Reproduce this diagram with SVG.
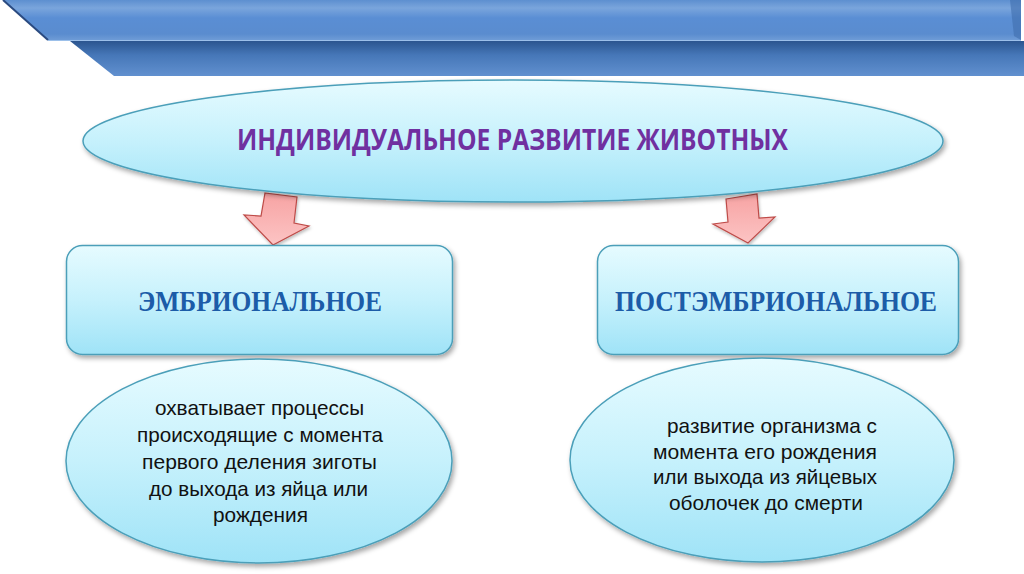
<svg xmlns="http://www.w3.org/2000/svg" width="1024" height="574" viewBox="0 0 1024 574">
<defs>
<linearGradient id="barTop" x1="0" y1="0" x2="0" y2="1">
<stop offset="0" stop-color="#5d8fd0"/>
<stop offset="0.2" stop-color="#7aa5dc"/>
<stop offset="0.45" stop-color="#5a8ed4"/>
<stop offset="0.85" stop-color="#5a8ccf"/>
<stop offset="1" stop-color="#6e9bd6"/>
</linearGradient>
<linearGradient id="barBot" x1="0" y1="0" x2="0" y2="1">
<stop offset="0" stop-color="#2b558f"/>
<stop offset="0.4" stop-color="#4677b8"/>
<stop offset="1" stop-color="#6190cf"/>
</linearGradient>
<linearGradient id="cyan" x1="0" y1="0" x2="0" y2="1">
<stop offset="0" stop-color="#e6fbff"/>
<stop offset="0.5" stop-color="#c6f1fc"/>
<stop offset="1" stop-color="#9fe3f7"/>
</linearGradient>
<linearGradient id="pink" x1="0" y1="0" x2="0" y2="1">
<stop offset="0" stop-color="#f7a3a3"/>
<stop offset="1" stop-color="#fcc4c4"/>
</linearGradient>
<filter id="sh" x="-10%" y="-10%" width="120%" height="130%">
<feDropShadow dx="2" dy="3" stdDeviation="2.5" flood-color="#000" flood-opacity="0.35"/>
</filter>
<filter id="ash" x="-20%" y="-20%" width="140%" height="140%">
<feDropShadow dx="1" dy="2" stdDeviation="1.5" flood-color="#000" flood-opacity="0.25"/>
</filter>
</defs>
<style>
.shape{fill:url(#cyan);stroke:#4b9fb9;stroke-width:1.5;filter:url(#sh)}
.arrow{fill:url(#pink);stroke:#be4b48;stroke-width:1.2;stroke-linejoin:miter;filter:url(#ash)}
.title{font-family:"Open Sans","Noto Sans","DejaVu Sans",sans-serif;font-weight:bold;font-size:28px;fill:#7030a0}
.head{font-family:"Liberation Serif","DejaVu Serif",serif;font-weight:bold;font-size:29px;fill:#1c5ca8}
.body{font-family:"Liberation Sans","DejaVu Sans",sans-serif;font-size:21px;fill:#111}
</style>
<rect width="1024" height="574" fill="#ffffff"/>
<g id="banner">
<polygon points="70,41 1024,41 1024,76 114,76" fill="url(#barBot)"/>
<polygon points="3,0 1021,0 1021,40 48,40" fill="url(#barTop)"/>
<line x1="3" y1="0" x2="48" y2="40" stroke="#2a4a80" stroke-width="2"/>
<line x1="48" y1="40.5" x2="1021" y2="40.5" stroke="#9cc0ea" stroke-width="1.2"/>
<polygon points="1010,0 1021,0 1021,40 1014,36" fill="#3f6eae" opacity="0.6"/>
</g>
<g id="connectors">
<polygon class="arrow" points="265,193 297,197 294,223 309,226 273,245 244,215 261,216"/>
<polygon class="arrow" points="726,199 757,194 759,218 775,217 748,243 713,224 728,222"/>
</g>
<g id="root">
<ellipse class="shape" cx="513" cy="141" rx="430" ry="61"/>
<text class="title" x="237" y="150" textLength="551" lengthAdjust="spacingAndGlyphs">ИНДИВИДУАЛЬНОЕ РАЗВИТИЕ ЖИВОТНЫХ</text>
</g>
<g id="embryonic">
<rect class="shape" x="66.5" y="245.5" width="386" height="109" rx="16"/>
<text class="head" x="138" y="311" textLength="244" lengthAdjust="spacingAndGlyphs">ЭМБРИОНАЛЬНОЕ</text>
</g>
<g id="postembryonic">
<rect class="shape" x="597.5" y="245.5" width="361" height="109" rx="16"/>
<text class="head" x="615" y="311" textLength="322" lengthAdjust="spacingAndGlyphs">ПОСТЭМБРИОНАЛЬНОЕ</text>
</g>
<g id="embryonic-desc">
<ellipse class="shape" cx="259" cy="461" rx="193" ry="102"/>
<text class="body" x="155" y="415" textLength="209" lengthAdjust="spacingAndGlyphs">охватывает процессы</text>
<text class="body" x="137" y="442" textLength="246" lengthAdjust="spacingAndGlyphs">происходящие с момента</text>
<text class="body" x="142" y="469" textLength="235" lengthAdjust="spacingAndGlyphs">первого деления зиготы</text>
<text class="body" x="149" y="496" textLength="219" lengthAdjust="spacingAndGlyphs">до выхода из яйца или</text>
<text class="body" x="213" y="522" textLength="95" lengthAdjust="spacingAndGlyphs">рождения</text>
</g>
<g id="postembryonic-desc">
<ellipse class="shape" cx="762" cy="460" rx="192" ry="102"/>
<text class="body" x="667" y="433" textLength="210" lengthAdjust="spacingAndGlyphs">развитие организма с</text>
<text class="body" x="653" y="458.5" textLength="224" lengthAdjust="spacingAndGlyphs">момента его рождения</text>
<text class="body" x="653" y="484" textLength="224" lengthAdjust="spacingAndGlyphs">или выхода из яйцевых</text>
<text class="body" x="669" y="509.5" textLength="194" lengthAdjust="spacingAndGlyphs">оболочек до смерти</text>
</g>
</svg>
